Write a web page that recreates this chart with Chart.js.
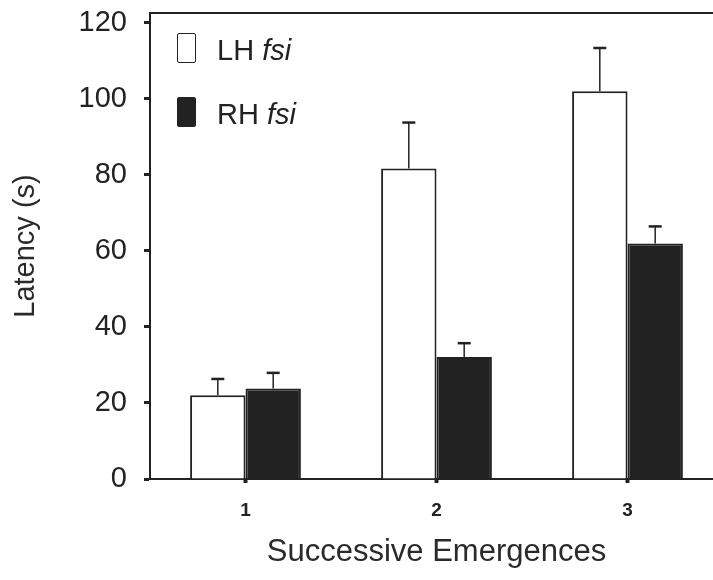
<!DOCTYPE html>
<html>
<head>
<meta charset="utf-8">
<script src="https://cdn.jsdelivr.net/npm/chart.js@4.4.1/dist/chart.umd.min.js"></script>
<style>
  html, body { margin: 0; padding: 0; overflow: hidden; background: #fff; }
  #wrap { position: relative; width: 723px; height: 580px; }
  #legend { position: absolute; left: 177px; top: 32px; font-family: "Liberation Sans", Arial, Helvetica, sans-serif; font-size: 29px; color: #222; }
  #legend .item { display: flex; align-items: center; height: 31px; margin-bottom: 33px; }
  #legend .box { width: 17px; height: 28px; border: 1.5px solid #222; border-radius: 2px; margin-right: 21px; }
  #legend .txt { line-height: 31px; position: relative; top: 3px; }
</style>
</head>
<body>
<div id="wrap">
  <canvas id="chart" width="723" height="580"></canvas>
  <div id="legend"></div>
</div>
<script>
// data
const emergences = ['1', '2', '3'];
const seriesNames = ['LH fsi', 'RH fsi'];
const lhLatency = [22.0, 81.6, 101.9];
const lhError = [4.3, 12.1, 11.4];
const rhLatency = [23.8, 32.1, 61.9];
const rhError = [4.1, 3.6, 4.5];
const yTicks = [0, 20, 40, 60, 80, 100, 120];

const ink = '#222';
const font = '"Liberation Sans", Arial, Helvetica, sans-serif';

// upward-only error bars
const errorBars = {
  id: 'errorBars',
  afterDatasetsDraw(chart) {
    const ctx = chart.ctx;
    const y = chart.scales.y;
    chart.data.datasets.forEach((ds, i) => {
      const meta = chart.getDatasetMeta(i);
      meta.data.forEach((bar, j) => {
        const top = y.getPixelForValue(ds.data[j] + ds.errors[j]);
        ctx.save();
        ctx.strokeStyle = ink;
        ctx.lineWidth = 1.5;
        ctx.beginPath();
        ctx.moveTo(bar.x, bar.y);
        ctx.lineTo(bar.x, top);
        ctx.stroke();
        ctx.lineWidth = 2.5;
        ctx.beginPath();
        ctx.moveTo(bar.x - 6.5, top);
        ctx.lineTo(bar.x + 6.5, top);
        ctx.stroke();
        ctx.restore();
      });
    });
  }
};

// html legend so the italic "fsi" stays real text
const htmlLegend = {
  id: 'htmlLegend',
  afterUpdate(chart) {
    const box = document.getElementById('legend');
    box.innerHTML = '';
    chart.data.datasets.forEach(ds => {
      const item = document.createElement('div');
      item.className = 'item';
      const sw = document.createElement('span');
      sw.className = 'box';
      sw.style.background = ds.backgroundColor;
      const txt = document.createElement('span');
      txt.className = 'txt';
      const parts = ds.label.split(' ');
      txt.appendChild(document.createTextNode(parts[0] + ' '));
      const it = document.createElement('i');
      it.textContent = parts.slice(1).join(' ');
      txt.appendChild(it);
      item.appendChild(sw);
      item.appendChild(txt);
      box.appendChild(item);
    });
  }
};

new Chart(document.getElementById('chart'), {
  type: 'bar',
  data: {
    labels: emergences,
    datasets: [{
      label: seriesNames[0],
      data: lhLatency,
      errors: lhError,
      backgroundColor: '#fff',
      borderColor: ink,
      borderWidth: 2
    }, {
      label: seriesNames[1],
      data: rhLatency,
      errors: rhError,
      backgroundColor: ink,
      borderColor: ink,
      borderWidth: 2
    }]
  },
  options: {
    responsive: false,
    animation: false,
    categoryPercentage: 0.58,
    barPercentage: 1,
    layout: { padding: { top: 13, left: 0, right: 0, bottom: 0 } },
    plugins: {
      legend: { display: false },
      tooltip: { enabled: false }
    },
    scales: {
      x: {
        grid: { offset: false, drawOnChartArea: false, tickLength: 4, tickWidth: 4, tickColor: ink },
        border: { color: ink, width: 2 },
        ticks: { color: ink, padding: 16, font: { family: font, size: 19, weight: 'bold' } },
        title: {
          display: true,
          text: 'Successive Emergences',
          color: '#2a2a2a',
          font: { family: font, size: 31 },
          padding: { top: 0, bottom: 9 }
        },
        afterFit(scale) {
          scale.height = 101;
          scale.paddingLeft = 0;
          scale.paddingRight = 0;
        }
      },
      x2: {
        position: 'top',
        grid: { display: false },
        ticks: { display: false },
        border: { display: true, color: ink, width: 2 },
        afterFit(scale) { scale.height = 0; }
      },
      y: {
        min: 0,
        max: 122.5,
        ticks: { stepSize: 20, color: ink, padding: 17, font: { family: font, size: 29 } },
        afterBuildTicks(scale) { scale.ticks = yTicks.map(v => ({ value: v })); },
        grid: { drawOnChartArea: false, tickLength: 6, tickWidth: 3, tickColor: ink },
        border: { color: ink, width: 2 },
        title: {
          display: true,
          text: 'Latency (s)',
          color: '#2a2a2a',
          font: { family: font, size: 29 },
          padding: { top: 9, bottom: 0 }
        },
        afterFit(scale) {
          scale.width = 150;
          scale.paddingTop = 0;
          scale.paddingBottom = 0;
        }
      }
    }
  },
  plugins: [errorBars, htmlLegend]
});
</script>
</body>
</html>
